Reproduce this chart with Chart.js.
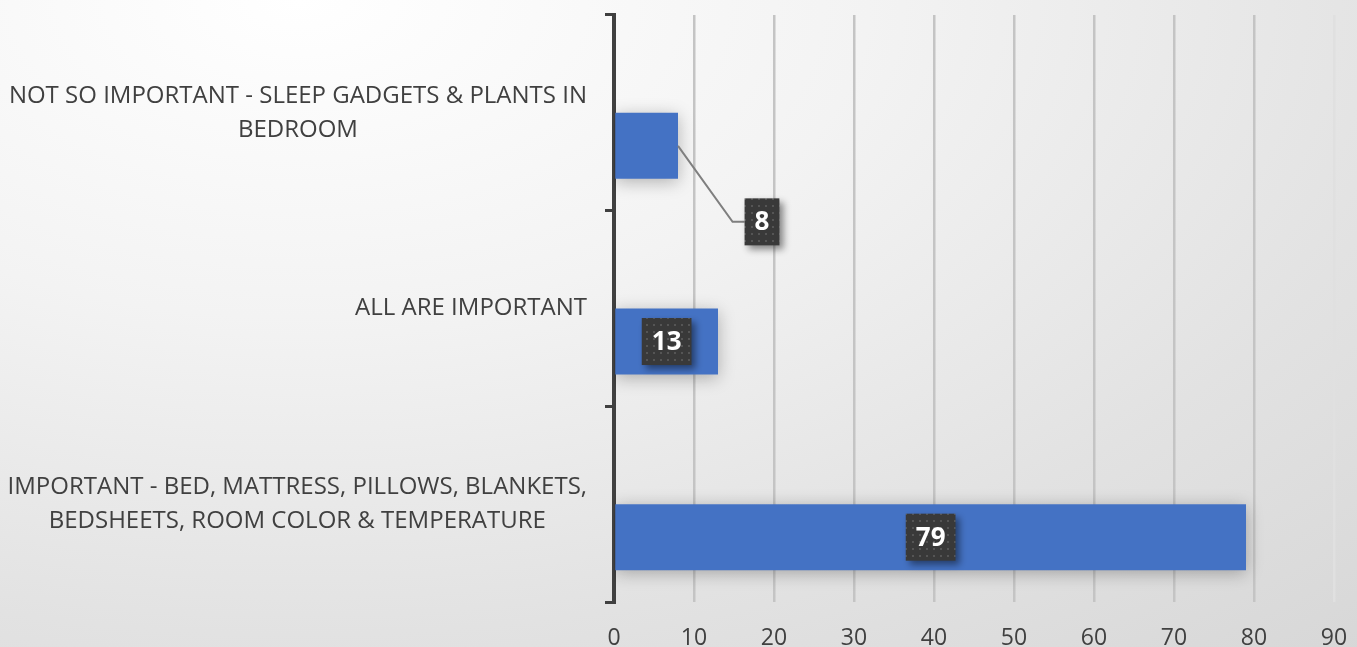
<!DOCTYPE html>
<html>
<head>
<meta charset="utf-8">
<script src="https://cdn.jsdelivr.net/npm/chart.js@4.4.1/dist/chart.umd.min.js"></script>
<style>
  html, body { margin: 0; padding: 0; }
  body {
    width: 1357px; height: 647px; overflow: hidden;
    background: radial-gradient(ellipse 120% 140% at 22% 0%, #ffffff 0%, #f3f3f3 35%, #e2e2e2 70%, #d6d6d6 100%);
  }
  #wrap { position: relative; width: 1357px; height: 647px; }
</style>
</head>
<body>
<div id="wrap"><canvas id="chart"></canvas></div>
<script>
// categories, top to bottom
const categories = [
  ['NOT SO IMPORTANT - SLEEP GADGETS & PLANTS IN', 'BEDROOM'],
  ['ALL ARE IMPORTANT'],
  ['IMPORTANT - BED, MATTRESS, PILLOWS, BLANKETS,', 'BEDSHEETS, ROOM COLOR & TEMPERATURE']
];
// share of answers (%)
const responses = [8, 13, 79];
// empty series that only takes up the upper half of each band
const blankSeries = [null, null, null];
const xTickValues = [0, 10, 20, 30, 40, 50, 60, 70, 80, 90];

const FONT = '"Open Sans", sans-serif';
const TEXT = '#404040';

// little dotted fill for the value boxes
function dotPattern(ctx) {
  const c = document.createElement('canvas');
  c.width = 7; c.height = 7;
  const g = c.getContext('2d');
  g.fillStyle = '#393939';
  g.fillRect(0, 0, 7, 7);
  g.fillStyle = '#555555';
  g.fillRect(2, 2, 2, 2);
  return ctx.createPattern(c, 'repeat');
}

// soft shadow under the bars
const barShadow = {
  id: 'barShadow',
  beforeDatasetsDraw(chart) {
    const ctx = chart.ctx;
    ctx.save();
    ctx.shadowColor = 'rgba(0,0,0,0.28)';
    ctx.shadowBlur = 16;
    ctx.shadowOffsetY = 3;
  },
  afterDatasetsDraw(chart) {
    chart.ctx.restore();
  }
};

// category labels: right aligned as a block, lines centred inside it
const categoryLabels = {
  id: 'categoryLabels',
  afterDraw(chart) {
    const ctx = chart.ctx;
    const y = chart.scales.y;
    const right = chart.chartArea.left - 27;
    const lh = 34;
    ctx.save();
    ctx.font = '24px ' + FONT;
    ctx.fillStyle = TEXT;
    ctx.textAlign = 'center';
    ctx.textBaseline = 'middle';
    categories.forEach((lines, i) => {
      const cy = y.getPixelForTick(i);
      const w = Math.max(...lines.map(l => ctx.measureText(l).width));
      const cx = right - w / 2;
      lines.forEach((l, j) => {
        ctx.fillText(l, cx, cy + (j - (lines.length - 1) / 2) * lh);
      });
    });
    ctx.restore();
  }
};

// dark value boxes, short bars get theirs pulled out on a leader line
const valueBoxes = {
  id: 'valueBoxes',
  afterDatasetsDraw(chart, args, opts) {
    const ctx = chart.ctx;
    const meta = chart.getDatasetMeta(1);
    const fill = dotPattern(ctx);
    ctx.save();
    ctx.font = 'bold 26px ' + FONT;
    meta.data.forEach((bar, i) => {
      const txt = String(responses[i]);
      const w = ctx.measureText(txt).width + 20;
      const h = 47;
      let cx = (bar.x + bar.base) / 2;
      let cy = bar.y;
      const out = opts.callouts[i];
      if (out) {
        cx = bar.x + out.dx;
        cy = bar.y + out.dy;
        ctx.strokeStyle = '#7f7f7f';
        ctx.lineWidth = 2;
        ctx.beginPath();
        ctx.moveTo(bar.x, bar.y);
        ctx.lineTo(cx - w / 2 - 12, cy);
        ctx.lineTo(cx - w / 2, cy);
        ctx.stroke();
      }
      ctx.save();
      ctx.shadowColor = 'rgba(0,0,0,0.45)';
      ctx.shadowBlur = 7;
      ctx.shadowOffsetX = 4;
      ctx.shadowOffsetY = 4;
      ctx.fillStyle = fill;
      ctx.fillRect(cx - w / 2, cy - h / 2, w, h);
      ctx.restore();
      ctx.fillStyle = '#ffffff';
      ctx.textAlign = 'center';
      ctx.textBaseline = 'middle';
      ctx.fillText(txt, cx, cy + 1);
    });
    ctx.restore();
  }
};

const data = {
  labels: categories,
  datasets: [{
    label: 'blank',
    data: blankSeries,
    backgroundColor: 'rgba(0,0,0,0)'
  }, {
    label: 'Responses',
    data: responses,
    backgroundColor: '#4472c4',
    borderWidth: 0
  }]
};

const config = {
  type: 'bar',
  data: data,
  options: {
    indexAxis: 'y',
    responsive: false,
    animation: false,
    categoryPercentage: 0.675,
    barPercentage: 1.0,
    layout: { padding: { top: 15, right: 23, left: 0, bottom: 0 } },
    scales: {
      x: {
        min: 0,
        max: 90,
        afterBuildTicks(scale) {
          scale.ticks = xTickValues.map(v => ({ value: v }));
        },
        afterFit(scale) {
          scale.height = 45;
          // let the "90" label hang past the plot edge
          scale.paddingLeft = 0;
          scale.paddingRight = 0;
        },
        border: { display: false },
        grid: {
          // outermost line is barely there
          color: (c) => (c.tick && c.tick.value === 90 ? '#e0e0e0' : '#c4c4c4'),
          lineWidth: 2.5,
          drawTicks: false
        },
        ticks: {
          color: TEXT,
          font: { family: FONT, size: 23 },
          padding: 23
        }
      },
      y: {
        afterFit(scale) { scale.width = 614; },
        border: { display: true, color: '#404040', width: 4 },
        grid: {
          drawOnChartArea: false,
          drawTicks: true,
          tickLength: 9,
          color: '#404040',
          lineWidth: 3
        },
        ticks: { display: false }
      }
    },
    plugins: {
      legend: { display: false },
      tooltip: { enabled: false },
      valueBoxes: {
        callouts: { 0: { dx: 84, dy: 76 } }
      }
    }
  },
  plugins: [barShadow, valueBoxes, categoryLabels]
};

const canvas = document.getElementById('chart');
canvas.width = 1357;
canvas.height = 647;
const myChart = new Chart(canvas.getContext('2d'), config);
</script>
</body>
</html>
